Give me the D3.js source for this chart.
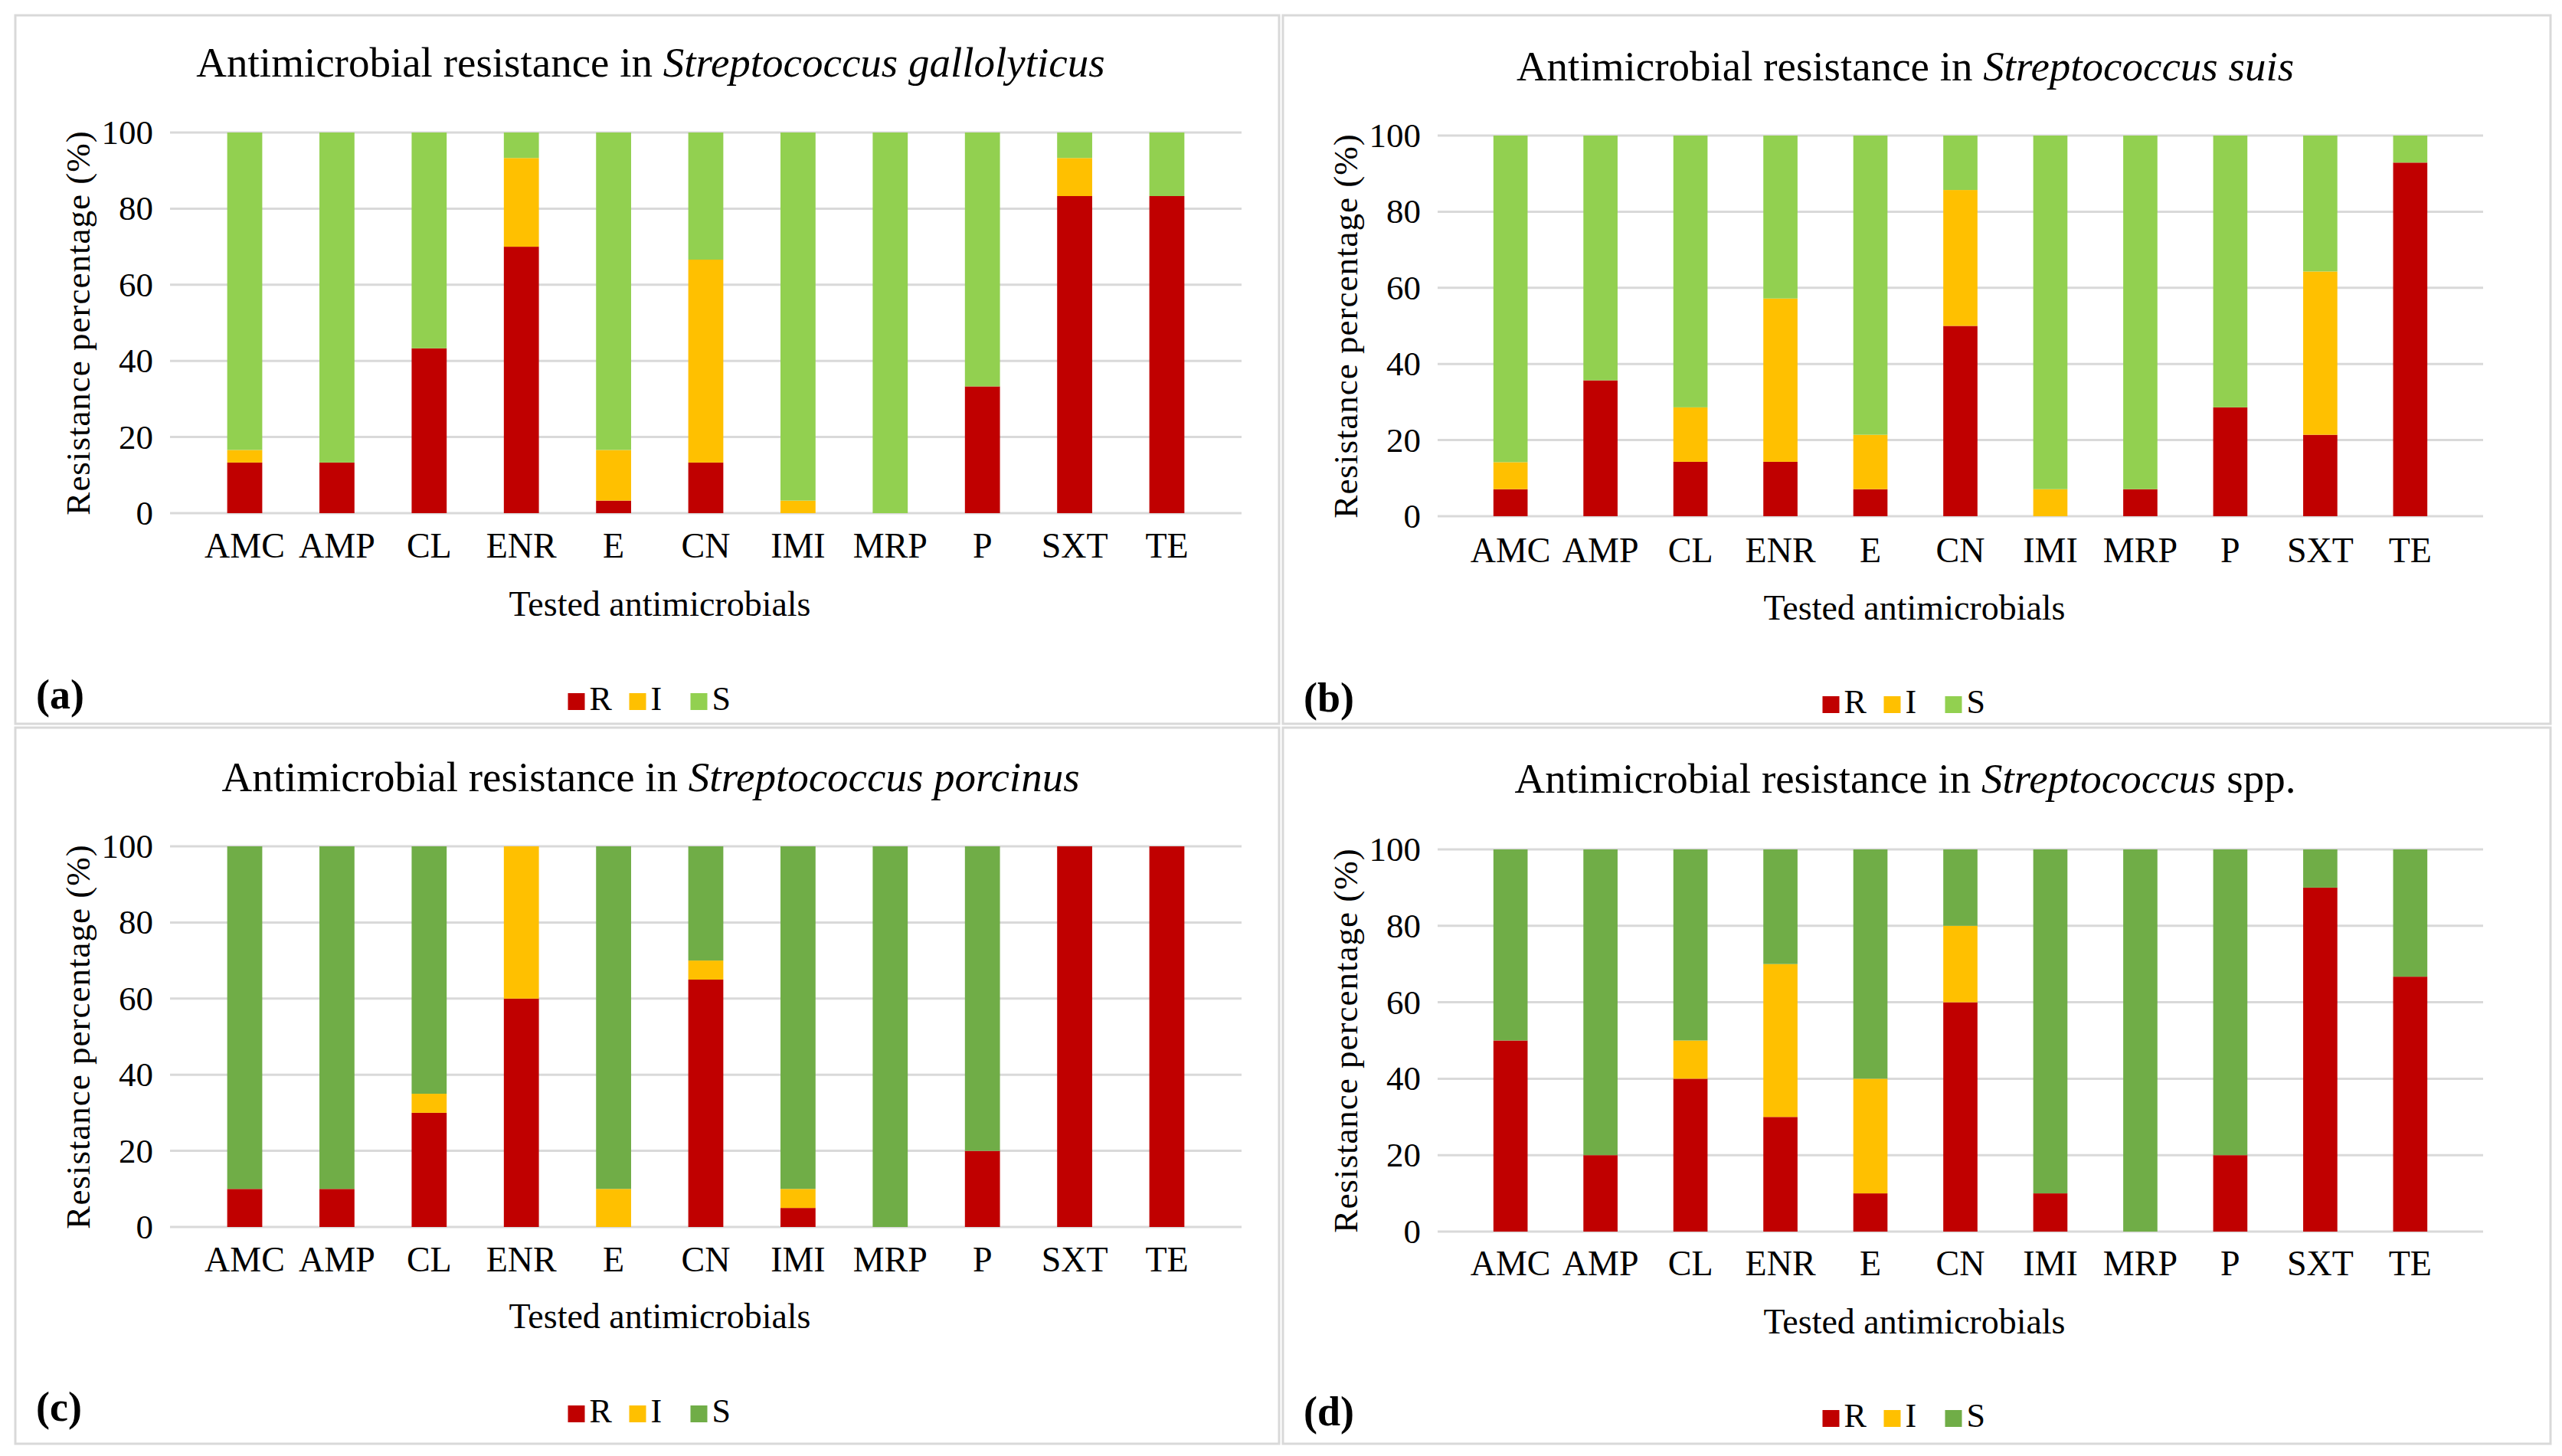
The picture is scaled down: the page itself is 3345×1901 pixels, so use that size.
<!DOCTYPE html>
<html lang="en">
<head>
<meta charset="UTF-8">
<title>Antimicrobial resistance in Streptococcus</title>
<script src="https://d3js.org/d3.v7.min.js"></script>
<style>
  body { margin: 0; background: #fff; }
  svg text { font-family: "Liberation Serif", "Times New Roman", serif !important; fill: #000; }
</style>
</head>
<body>
<svg width="3345" height="1901"></svg>
<script>
// Categories and values (percent)
const drugs = ["AMC", "AMP", "CL", "ENR", "E", "CN", "IMI", "MRP", "P", "SXT", "TE"];
const yTicks = [0, 20, 40, 60, 80, 100];

const gallolyticusR = [13.3, 13.3, 43.3, 70, 3.3, 13.3, 0, 0, 33.3, 83.3, 83.3];
const gallolyticusI = [3.3, 0, 0, 23.3, 13.3, 53.3, 3.3, 0, 0, 10, 0];
const gallolyticusS = [83.4, 86.7, 56.7, 6.7, 83.4, 33.4, 96.7, 100, 66.7, 6.7, 16.7];

const suisR = [7.1, 35.7, 14.3, 14.3, 7.1, 50, 0, 7.1, 28.6, 21.4, 92.9];
const suisI = [7.1, 0, 14.3, 42.9, 14.3, 35.7, 7.1, 0, 0, 42.9, 0];
const suisS = [85.8, 64.3, 71.4, 42.8, 78.6, 14.3, 92.9, 92.9, 71.4, 35.7, 7.1];

const porcinusR = [10, 10, 30, 60, 0, 65, 5, 0, 20, 100, 100];
const porcinusI = [0, 0, 5, 40, 10, 5, 5, 0, 0, 0, 0];
const porcinusS = [90, 90, 65, 0, 90, 30, 90, 100, 80, 0, 0];

const sppR = [50, 20, 40, 30, 10, 60, 10, 0, 20, 90, 66.7];
const sppI = [0, 0, 10, 40, 30, 20, 0, 0, 0, 0, 0];
const sppS = [50, 80, 50, 30, 60, 20, 90, 100, 80, 10, 33.3];

const panels = [
  { tag: "(a)", species: "Streptococcus gallolyticus", suffix: "", R: gallolyticusR, I: gallolyticusI, S: gallolyticusS,
    box: [20, 20, 1670, 945], left: 222, right: 1621, top: 173, bottom: 670, titleY: 87, labY: 725, axY: 793, legY: 913, sColor: "#92D050" },
  { tag: "(b)", species: "Streptococcus suis", suffix: "", R: suisR, I: suisI, S: suisS,
    box: [1675, 20, 3330, 945], left: 1877, right: 3242, top: 177, bottom: 674, titleY: 92, labY: 731, axY: 798, legY: 917, sColor: "#92D050" },
  { tag: "(c)", species: "Streptococcus porcinus", suffix: "", R: porcinusR, I: porcinusI, S: porcinusS,
    box: [20, 950, 1670, 1885], left: 222, right: 1621, top: 1105, bottom: 1602, titleY: 1020, labY: 1657, axY: 1723, legY: 1843, sColor: "#70AD47" },
  { tag: "(d)", species: "Streptococcus", suffix: " spp.", R: sppR, I: sppI, S: sppS,
    box: [1675, 950, 3330, 1885], left: 1877, right: 3242, top: 1109, bottom: 1608, titleY: 1022, labY: 1662, axY: 1730, legY: 1849, sColor: "#70AD47" }
];

const svg = d3.select("svg");

panels.forEach(p => {
  const g = svg.append("g");
  g.append("rect")
    .attr("x", p.box[0]).attr("y", p.box[1])
    .attr("width", p.box[2] - p.box[0]).attr("height", p.box[3] - p.box[1])
    .attr("fill", "#fff").attr("stroke", "#d9d9d9").attr("stroke-width", 3);

  const x = d3.scaleBand().domain(drugs).range([p.left, p.right]).padding(0.62);
  const y = d3.scaleLinear().domain([0, 100]).range([p.bottom, p.top]);
  const colors = { R: "#C00000", I: "#FFC000", S: p.sColor };

  // gridlines
  g.selectAll(".grid").data(yTicks).enter().append("line")
    .attr("x1", p.left).attr("x2", p.right)
    .attr("y1", d => y(d)).attr("y2", d => y(d))
    .attr("stroke", "#d9d9d9").attr("stroke-width", 3);

  // stacked bars
  const rows = drugs.map((d, i) => ({ drug: d, R: p.R[i], I: p.I[i], S: p.S[i] }));
  const series = d3.stack().keys(["R", "I", "S"])(rows);
  series.forEach(s => {
    g.selectAll(null).data(s).enter().append("rect")
      .attr("x", d => x(d.data.drug))
      .attr("width", x.bandwidth())
      .attr("y", d => y(Math.min(100, d[1])))
      .attr("height", d => Math.max(0, y(d[0]) - y(Math.min(100, d[1]))))
      .attr("fill", colors[s.key]);
  });

  // y axis
  const ya = g.append("g").attr("transform", `translate(${p.left},0)`)
    .call(d3.axisLeft(y).tickValues(yTicks).tickSize(0).tickPadding(22));
  ya.select(".domain").remove();
  ya.selectAll("text").style("font-size", "45px");

  // x axis
  const xa = g.append("g").attr("transform", `translate(0,${p.labY - 30})`)
    .call(d3.axisBottom(x).tickSize(0).tickPadding(0));
  xa.select(".domain").remove();
  xa.selectAll("text").style("font-size", "46px").attr("dy", "0.71em");

  // title
  const cx = (p.left + p.right) / 2 - 72;
  const t = g.append("text").attr("x", cx).attr("y", p.titleY)
    .attr("text-anchor", "middle").attr("dominant-baseline", "middle").style("font-size", "55px");
  t.append("tspan").text("Antimicrobial resistance in ");
  t.append("tspan").style("font-style", "italic").text(p.species);
  if (p.suffix) t.append("tspan").text(p.suffix);

  // axis titles
  g.append("text").attr("x", (p.left + p.right) / 2 - 60).attr("y", p.axY)
    .attr("text-anchor", "middle").attr("dominant-baseline", "middle")
    .style("font-size", "46px").text("Tested antimicrobials");
  g.append("text")
    .attr("transform", `translate(${p.left - 115},${(p.top + p.bottom) / 2}) rotate(-90)`)
    .attr("text-anchor", "middle").attr("dominant-baseline", "middle")
    .style("font-size", "45px").style("letter-spacing", "1px").text("Resistance percentage (%)");

  // panel tag
  g.append("text").attr("x", p.box[0] + 27).attr("y", p.legY)
    .attr("dominant-baseline", "middle").style("font-size", "54px").style("font-weight", "bold").text(p.tag);

  // legend
  const lx = (p.left + p.right) / 2 - 180;
  ["R", "I", "S"].forEach((k, i) => {
    const gx = lx + i * 80;
    g.append("rect").attr("x", gx).attr("y", p.legY - 8).attr("width", 22).attr("height", 22).attr("fill", colors[k]);
    g.append("text").attr("x", gx + 28).attr("y", p.legY + 4)
      .attr("dominant-baseline", "middle").style("font-size", "44px").text(k);
  });
});
</script>
</body>
</html>
